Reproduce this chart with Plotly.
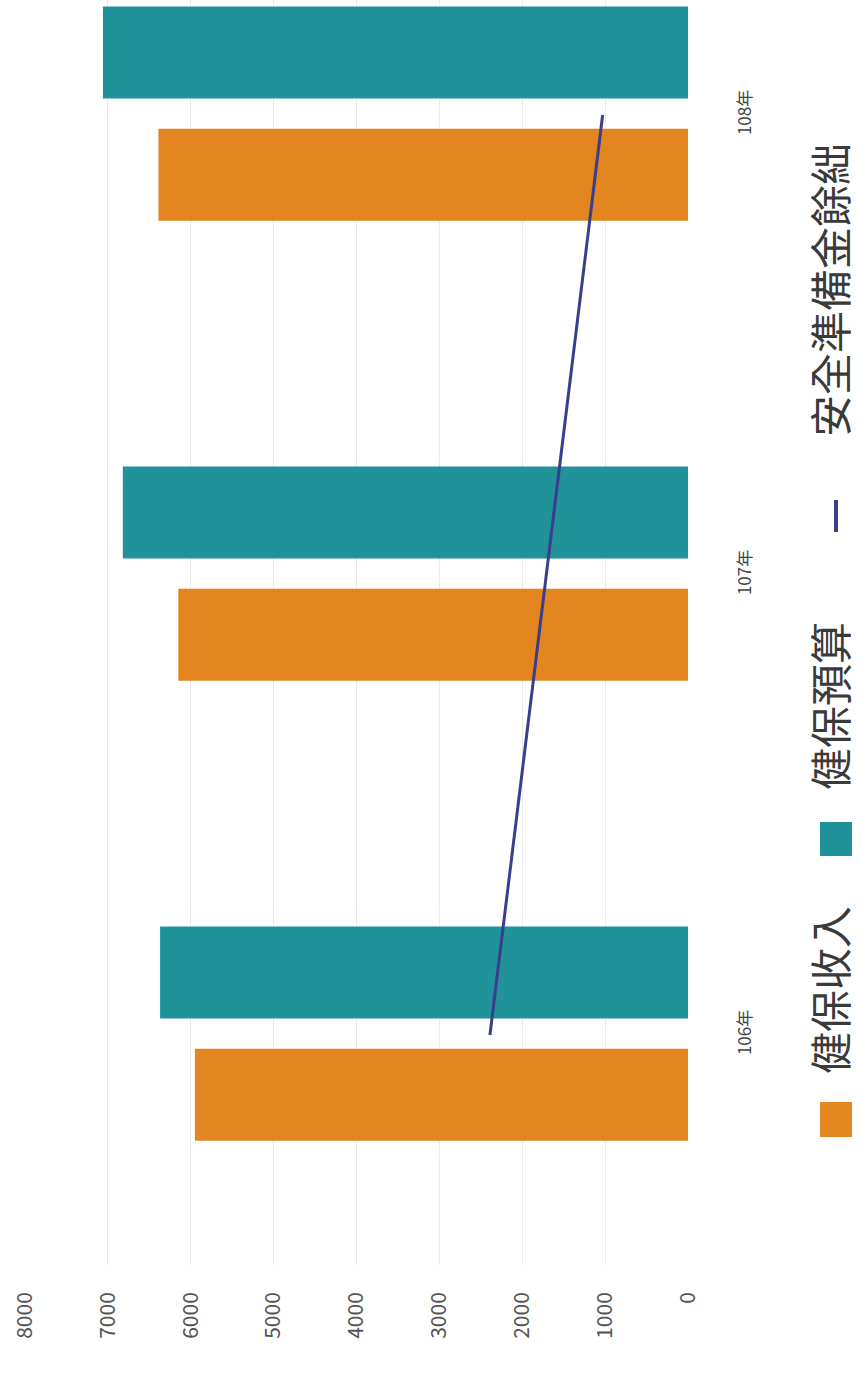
import plotly.graph_objects as go

categories = ["106年", "107年", "108年"]
income = [5950, 6150, 6390]      # 健保收入
budget = [6370, 6820, 7060]      # 健保預算
reserve = [2390, 1710, 1030]     # 安全準備金餘絀
x_ticks = [0, 1000, 2000, 3000, 4000, 5000, 6000, 7000, 8000]
legend_names = ["健保收入", "健保預算", "安全準備金餘絀"]

ORANGE = "#E3861F"
TEAL = "#1F929A"
NAVY = "#3A3E8E"
FONT = "Noto Sans CJK TC, Noto Sans, sans-serif"

W, H = 862, 1374
# plot area in screen pixels
SL, SR = 25, 688
ST, SB = 0, 1265

fig = go.Figure()
fig.add_trace(go.Bar(y=categories, x=income, orientation="h", name=legend_names[0],
                     marker=dict(color=ORANGE, line=dict(width=0)), width=0.2, offset=-0.23))
fig.add_trace(go.Bar(y=categories, x=budget, orientation="h", name=legend_names[1],
                     marker=dict(color=TEAL, line=dict(width=0)), width=0.2, offset=0.036))
fig.add_trace(go.Scatter(y=categories, x=reserve, mode="lines", name=legend_names[2],
                         line=dict(color=NAVY, width=3)))


def px(xs):
    return (xs - SL) / (SR - SL)


def py(ys):
    return (SB - ys) / (SB - ST)


shapes = [
    dict(type="rect", xref="paper", yref="paper", x0=px(820), x1=px(852), y0=py(1137), y1=py(1102),
         fillcolor=ORANGE, line=dict(width=0)),
    dict(type="rect", xref="paper", yref="paper", x0=px(820), x1=px(852), y0=py(856), y1=py(822),
         fillcolor=TEAL, line=dict(width=0)),
    dict(type="line", xref="paper", yref="paper", x0=px(836), x1=px(836), y0=py(532), y1=py(500),
         line=dict(color=NAVY, width=4)),
]

LEG_FONT = dict(size=42, color="#3A3A3A", family=FONT)
annotations = [
    dict(text=legend_names[0], xref="paper", yref="paper", x=px(828), y=py(990),
         xanchor="center", yanchor="middle", textangle=-90, showarrow=False, font=LEG_FONT),
    dict(text=legend_names[1], xref="paper", yref="paper", x=px(828), y=py(706),
         xanchor="center", yanchor="middle", textangle=-90, showarrow=False, font=LEG_FONT),
    dict(text=legend_names[2], xref="paper", yref="paper", x=px(828), y=py(290),
         xanchor="center", yanchor="middle", textangle=-90, showarrow=False, font=LEG_FONT),
]

# y range so that category centres land at the reference's screen positions
PITCH = 460.0
C0 = 1035.0
yr = [(C0 - SB) / PITCH, (C0 - ST) / PITCH]

fig.update_layout(
    width=W, height=H,
    margin=dict(l=SL, r=W - SR, t=ST, b=H - SB),
    paper_bgcolor="white", plot_bgcolor="white",
    barmode="overlay",
    showlegend=False,
    shapes=shapes,
    annotations=annotations,
    font=dict(family=FONT, color="#444444"),
    xaxis=dict(range=[8000, 0], tickvals=x_ticks, ticktext=[str(v) for v in x_ticks],
               tickangle=-90, tickfont=dict(size=21, color="#555555"),
               showgrid=True, gridcolor="#EAEAEA", gridwidth=1, zeroline=False,
               showline=False, ticks="", ticklabelstandoff=22, ticklabeloverflow="allow"),
    yaxis=dict(type="category", categoryorder="array", categoryarray=categories,
               range=yr, side="right", tickangle=-90,
               tickfont=dict(size=17, color="#444444"), showgrid=False,
               zeroline=False, showline=False, ticks="", ticklabelstandoff=45),
)

# remove the page's default 8px body margin so the figure fills the window exactly
fig.write_html("out.html", config={"displayModeBar": False},
               post_script="document.body.style.margin='0';")
